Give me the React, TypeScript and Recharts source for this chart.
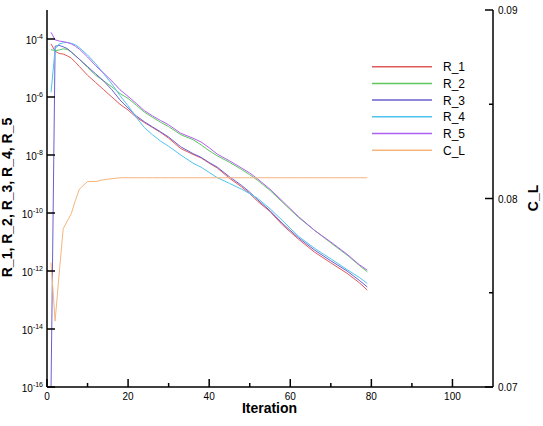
import React from 'react';
import { LineChart, Line, XAxis, YAxis } from 'recharts';

// iteration numbers where the curves were sampled
const iterations = [1, 2, 3, 4, 5, 6, 7, 8, 10, 12, 14, 16, 18, 20, 22, 24, 26, 28, 30, 33, 36, 38, 40, 42, 45, 48, 50, 52, 55, 58, 62, 66, 70, 74, 77, 79];

const r1 = [6.76e-5, 3.8e-5, 3.16e-5, 3.02e-5, 2.63e-5, 2.19e-5, 1.58e-5, 1.12e-5, 5.62e-6, 3.16e-6, 1.78e-6, 1.0e-6, 5.62e-7, 3.55e-7, 2.0e-7, 1.32e-7, 8.91e-8, 6.03e-8, 3.8e-8, 1.66e-8, 1.05e-8, 7.94e-9, 5.25e-9, 3.55e-9, 1.58e-9, 7.94e-10, 4.68e-10, 2.51e-10, 1.12e-10, 3.98e-11, 1.26e-11, 4.47e-12, 1.91e-12, 8.32e-13, 3.98e-13, 2.19e-13];
const r2 = [4.27e-5, 3.98e-5, 4.17e-5, 4.57e-5, 4.37e-5, 3.55e-5, 2.69e-5, 2.0e-5, 1.05e-5, 5.62e-6, 3.55e-6, 2.24e-6, 1.32e-6, 8.91e-7, 5.25e-7, 3.02e-7, 2.0e-7, 1.35e-7, 9.55e-8, 5.01e-8, 3.39e-8, 2.24e-8, 1.41e-8, 9.33e-9, 5.62e-9, 3.16e-9, 2.09e-9, 1.32e-9, 6.03e-10, 2.4e-10, 7.08e-11, 2.51e-11, 9.33e-12, 3.55e-12, 1.58e-12, 9.33e-13];
const r3 = [1e-16, 5.62e-5, 6.03e-5, 5.37e-5, 4.68e-5, 3.55e-5, 2.63e-5, 2.0e-5, 1.12e-5, 6.31e-6, 3.55e-6, 1.78e-6, 7.94e-7, 4.17e-7, 2.24e-7, 1.41e-7, 9.33e-8, 6.31e-8, 4.17e-8, 1.91e-8, 1.12e-8, 8.32e-9, 5.5e-9, 3.8e-9, 1.78e-9, 8.91e-10, 5.25e-10, 2.82e-10, 1.2e-10, 4.47e-11, 1.41e-11, 5.25e-12, 2.24e-12, 1.0e-12, 4.79e-13, 2.82e-13];
const r4 = [1.45e-6, 4.57e-5, 6.76e-5, 7.41e-5, 7.59e-5, 7.08e-5, 6.31e-5, 5.01e-5, 2.82e-5, 1.41e-5, 6.31e-6, 2.82e-6, 1.12e-6, 5.01e-7, 2.0e-7, 8.91e-8, 5.01e-8, 3.02e-8, 2.0e-8, 1.0e-8, 5.25e-9, 3.8e-9, 2.51e-9, 1.66e-9, 1.05e-9, 6.61e-10, 4.68e-10, 3.16e-10, 1.41e-10, 5.62e-11, 1.58e-11, 6.03e-12, 2.63e-12, 1.12e-12, 6.03e-13, 3.72e-13];
const r5 = [1.7e-4, 9.33e-5, 8.51e-5, 8.13e-5, 7.59e-5, 6.76e-5, 5.62e-5, 4.47e-5, 2.4e-5, 1.2e-5, 6.61e-6, 3.55e-6, 1.78e-6, 1.05e-6, 6.03e-7, 3.39e-7, 2.24e-7, 1.55e-7, 1.1e-7, 5.62e-8, 3.8e-8, 2.82e-8, 1.78e-8, 1.07e-8, 6.31e-9, 3.55e-9, 2.4e-9, 1.48e-9, 6.61e-10, 2.63e-10, 7.59e-11, 2.51e-11, 1.0e-11, 3.8e-12, 1.66e-12, 1.07e-12];
const cl = [0.0766, 0.0735, 0.076, 0.0784, 0.0788, 0.0792, 0.0799, 0.0805, 0.0809, 0.0809, 0.081, 0.08105, 0.0811, 0.0811, 0.0811, 0.0811, 0.0811, 0.0811, 0.0811, 0.0811, 0.0811, 0.0811, 0.0811, 0.0811, 0.0811, 0.0811, 0.0811, 0.0811, 0.0811, 0.0811, 0.0811, 0.0811, 0.0811, 0.0811, 0.0811, 0.0811];

const seriesNames = ['R_1', 'R_2', 'R_3', 'R_4', 'R_5', 'C_L'];
const seriesColors = ['#e05a5a', '#5cc85c', '#6a5fd0', '#4fc3f0', '#b060f0', '#f6b57c'];

const logTicks = [1e-16, 1e-14, 1e-12, 1e-10, 1e-8, 1e-6, 1e-4];
const iterTicks = [0, 10, 20, 30, 40, 50, 60, 70, 80, 90, 100];
const clTicks = [0.07, 0.075, 0.08, 0.085, 0.09];

const rows = iterations.map((it, i) => ({
  it,
  R_1: r1[i],
  R_2: r2[i],
  R_3: r3[i],
  R_4: r4[i],
  R_5: r5[i],
  C_L: cl[i],
}));

const FONT = '"Liberation Sans", Arial, sans-serif';

const LogTick = ({ x, y, payload }: any) => {
  const exp = Math.round(Math.log10(payload.value));
  return (
    <g>
      <line x1={x} x2={x + 8} y1={y} y2={y} stroke="#000" strokeWidth={1.5} />
      <text x={x - 4} y={y + 4.5} textAnchor="end" fontSize={10} fill="#000" fontFamily={FONT}>
        10<tspan dy={-4.5} fontSize={7}>{exp}</tspan>
      </text>
    </g>
  );
};

const IterTick = ({ x, y, payload }: any) => {
  const major = payload.value % 20 === 0;
  return (
    <g>
      <line x1={x} x2={x} y1={y} y2={y - (major ? 8 : 4)} stroke="#000" strokeWidth={1.5} />
      {major && (
        <text x={x} y={y + 12.5} textAnchor="middle" fontSize={10} fill="#000" fontFamily={FONT}>
          {payload.value}
        </text>
      )}
    </g>
  );
};

const ClTick = ({ x, y, payload }: any) => {
  const v = payload.value;
  const major = Math.abs(v * 100 - Math.round(v * 100)) < 1e-6;
  return (
    <g>
      <line x1={x} x2={x - (major ? 8 : 4)} y1={y} y2={y} stroke="#000" strokeWidth={1.5} />
      {major && (
        <text x={x + 5} y={y + 4} textAnchor="start" fontSize={10} fill="#000" fontFamily={FONT}>
          {v.toFixed(2)}
        </text>
      )}
    </g>
  );
};

export default function App() {
  return (
    <div style={{ position: 'absolute', left: 0, top: 0, background: '#fff' }}>
      <LineChart width={543} height={426} data={rows} margin={{ top: 10, right: 0, bottom: 0, left: 0 }}>
        <XAxis
          dataKey="it"
          type="number"
          domain={[0, 110]}
          ticks={iterTicks}
          interval={0}
          tickSize={0}
          tickMargin={0}
          height={39}
          axisLine={{ stroke: '#000', strokeWidth: 1.5 }}
          tickLine={false}
          tick={<IterTick />}
        />
        <YAxis
          yAxisId="res"
          scale="log"
          domain={[1e-16, 1e-3]}
          allowDataOverflow
          ticks={logTicks}
          interval={0}
          width={47}
          tickSize={0}
          tickMargin={0}
          axisLine={{ stroke: '#000', strokeWidth: 1.5 }}
          tickLine={false}
          tick={<LogTick />}
        />
        <YAxis
          yAxisId="cl"
          orientation="right"
          domain={[0.07, 0.09]}
          allowDataOverflow
          ticks={clTicks}
          interval={0}
          width={50}
          tickSize={0}
          tickMargin={0}
          axisLine={{ stroke: '#000', strokeWidth: 1.5 }}
          tickLine={false}
          tick={<ClTick />}
        />
        {seriesNames.map((name, i) => (
          <Line
            key={name}
            yAxisId={name === 'C_L' ? 'cl' : 'res'}
            dataKey={name}
            stroke={seriesColors[i]}
            strokeWidth={1}
            dot={false}
            type="linear"
            isAnimationActive={false}
          />
        ))}
        <text x={12} y={197.5} transform="rotate(-90 12 197.5)" textAnchor="middle" fontSize={14} fontWeight="bold" fontFamily={FONT} fill="#000">
          R_1, R_2, R_3, R_4, R_5
        </text>
        <text x={537.5} y={198} transform="rotate(-90 537.5 198)" textAnchor="middle" fontSize={14} fontWeight="bold" fontFamily={FONT} fill="#000">
          C_L
        </text>
        <text x={269.5} y={413} textAnchor="middle" fontSize={14} fontWeight="bold" fontFamily={FONT} fill="#000">
          Iteration
        </text>
        {seriesNames.map((name, i) => (
          <g key={`leg-${name}`}>
            <line x1={372} x2={432} y1={66.7 + i * 16.7} y2={66.7 + i * 16.7} stroke={seriesColors[i]} strokeWidth={1.5} />
            <text x={443} y={66.7 + i * 16.7 + 4.5} fontSize={12} fontFamily={FONT} fill="#000">
              {name}
            </text>
          </g>
        ))}
      </LineChart>
    </div>
  );
}
